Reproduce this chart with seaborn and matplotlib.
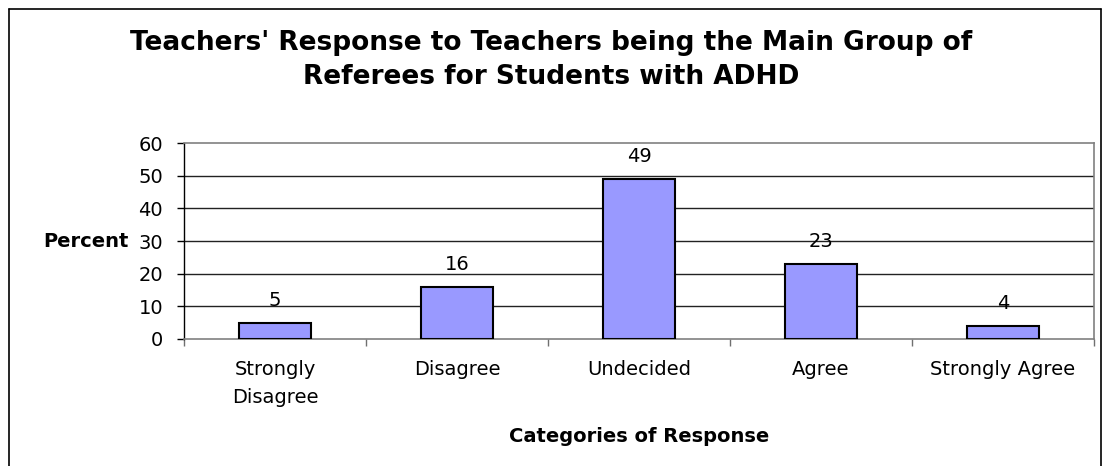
import matplotlib
matplotlib.use("Agg")
import matplotlib.pyplot as plt
import seaborn as sns
import pandas as pd
from matplotlib.lines import Line2D

categories = ["Strongly\nDisagree", "Disagree", "Undecided", "Agree", "Strongly Agree"]
percent = [5, 16, 49, 23, 4]
y_ticks = [0, 10, 20, 30, 40, 50, 60]

sns.set_style("white")
plt.rcParams["font.family"] = ["DejaVu Sans"]
plt.rcParams["text.color"] = "black"
plt.rcParams["axes.labelcolor"] = "black"

W, H = 1103, 466
fig = plt.figure(figsize=(W / 100, H / 100), dpi=100)
ax = fig.add_axes([184 / W, 1 - 339 / H, (1094 - 184) / W, (339 - 143) / H])

df = pd.DataFrame({"category": categories, "percent": percent})
sns.barplot(data=df, x="category", y="percent", ax=ax, color="#9999FF",
            saturation=1, width=0.4, edgecolor="black", linewidth=1.5, zorder=3)

ax.set_ylim(0, 60)
ax.set_xlim(-0.5, len(categories) - 0.5)
ax.set_yticks(y_ticks)
ax.set_yticklabels([str(t) for t in y_ticks], fontsize=14, color="black")
ax.tick_params(axis="y", left=True, direction="out", length=5, width=1,
               color="black", pad=10)

# category boundaries carry the x ticks
ax.set_xticks([i - 0.5 for i in range(len(categories) + 1)], minor=False)
ax.set_xticklabels([])
ax.tick_params(axis="x", which="major", bottom=True, direction="out", length=5,
               width=1, color="#707070")
ax.set_xticks(range(len(categories)), minor=True)
ax.set_xticklabels(categories, minor=True, fontsize=14, color="black", linespacing=1.6)
ax.tick_params(axis="x", which="minor", bottom=False, length=0, pad=15)

for v in y_ticks[1:-1]:
    ax.axhline(v, color="#222222", linewidth=1.0, zorder=1)

for side in ["top", "right", "bottom"]:
    ax.spines[side].set_color("#808080")
    ax.spines[side].set_linewidth(1.2)
ax.spines["left"].set_color("black")
ax.spines["left"].set_linewidth(1.0)

for i, v in enumerate(percent):
    ax.annotate(str(v), (i, v), xytext=(0, 9), textcoords="offset points",
                ha="center", va="bottom", fontsize=14)

ax.set_xlabel("Categories of Response", fontsize=14, fontweight="bold")
ax.xaxis.set_label_coords(0.5, (339 - 436) / 196)
ax.xaxis.label.set_va("center")
ax.set_ylabel("Percent", fontsize=14, fontweight="bold", rotation=0,
              ha="right", va="center")
ax.yaxis.set_label_coords((129 - 184) / 910, 0.5)

fig.text(0.5, 1 - 60 / H, "Teachers' Response to Teachers being the Main Group of\nReferees for Students with ADHD",
         ha="center", va="center", fontsize=19, fontweight="bold", linespacing=1.42)

# outer chart frame
frame = dict(color="black", linewidth=1.2, transform=fig.transFigure)
fig.add_artist(Line2D([9 / W, 9 / W], [0, 1 - 9 / H], **frame))
fig.add_artist(Line2D([9 / W, 1101 / W], [1 - 9 / H, 1 - 9 / H], **frame))
fig.add_artist(Line2D([1101 / W, 1101 / W], [0, 1 - 9 / H], **frame))

fig.savefig("out.png", dpi=100, facecolor="white")
